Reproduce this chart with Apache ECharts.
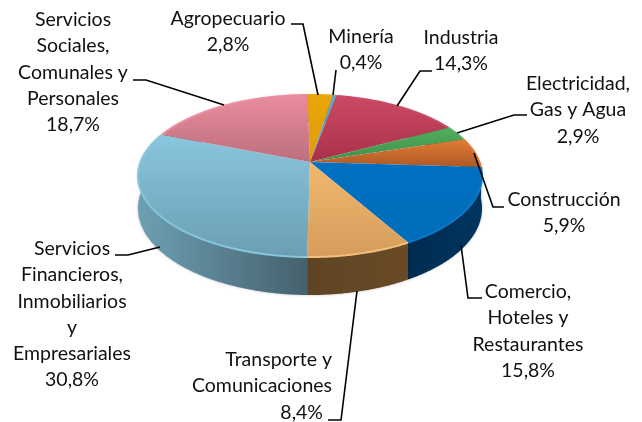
<!DOCTYPE html>
<html>
<head>
<meta charset="utf-8">
<style>
  html, body { margin: 0; background: #fff; }
  #chart { width: 642px; height: 422px; }
</style>
<script src="https://cdn.jsdelivr.net/npm/echarts@6/dist/echarts.min.js"></script>
</head>
<body>
<div id="chart"></div>
<script>
// datos, en sentido horario desde arriba
const sectores = [
  ['Agropecuario'],
  ['Minería'],
  ['Industria'],
  ['Electricidad,', 'Gas y Agua'],
  ['Construcción'],
  ['Comercio,', 'Hoteles y', 'Restaurantes'],
  ['Transporte y', 'Comunicaciones'],
  ['Servicios', 'Financieros,', 'Inmobiliarios', 'y', 'Empresariales'],
  ['Servicios', 'Sociales,', 'Comunales y', 'Personales']
]
const valores = [2.8, 0.4, 14.3, 2.9, 5.9, 15.8, 8.4, 30.8, 18.7]

// colores de cada porcion
const caraArriba = ['#eba60c', '#6aa6c8', '#cb4a63', '#52ad5e', '#e37c35', '#0070c2', '#f1b96f', '#8ac6dd', '#ea8d9e']
const caraAbajo = ['#e09a06', '#5a96b8', '#a93049', '#3f9049', '#ad5925', '#006db9', '#d59c5c', '#6b9eb4', '#bc6e7d']
const bordeLuz = ['#eba60c', '#6aa6c8', '#cb4a63', '#52ad5e', '#e37c35', '#0f78c4', '#f2bf7c', '#86c6dc', '#ea8d9e']
const ladoIzq = ['#b07a05', '#3e6c85', '#7d2236', '#2b6a35', '#8a4a1e', '#00355f', '#6a4a26', '#6da0b3', '#8a4f5a']
const ladoDer = ['#b07a05', '#3e6c85', '#7d2236', '#2b6a35', '#8a4a1e', '#002c50', '#5f4424', '#45606d', '#8a4f5a']

// donde va cada etiqueta y su linea guia
const etiquetas = [
  { x: 228, y: 19, align: 'center', guia: [[291, 24], [303, 24], [318, 95]] },
  { x: 361, y: 37, align: 'center', guia: [[336, 70], [333, 95]] },
  { x: 461, y: 38, align: 'center', guia: [[432, 71], [420, 71], [397, 106]] },
  { x: 578, y: 84, align: 'center', guia: [[527, 115], [514, 115], [457, 133]] },
  { x: 564, y: 200, align: 'center', guia: [[504, 207], [493, 207], [474, 153]] },
  { x: 528, y: 292, align: 'center', guia: [[482, 298], [468, 298], [461, 245]] },
  { x: 332, y: 360, align: 'right', valorX: 323, guia: [[328, 420], [341, 420], [357, 291]] },
  { x: 72, y: 249, align: 'center', guia: [[115, 255], [128, 255], [160, 247]] },
  { x: 73, y: 20, align: 'center', guia: [[133, 80], [146, 80], [224, 105]] }
]

// geometria del disco en perspectiva
const cx = 310
const cy = 162
const radioX = 169.4
const radioY = 78.6
const persp = 0.173
const grosor = 31.4
const inicio = -1
const altoLinea = 26.2
const fuente = '19.5px Lato'

const total = valores.reduce((a, b) => a + b, 0)

function punto (grados, caida) {
  const t = grados * Math.PI / 180
  const s = 1 / (1 + persp * Math.cos(t))
  return [
    cx + radioX * Math.sin(t) * s,
    cy - radioY * Math.cos(t) * s + (caida ? grosor * s : 0)
  ]
}

function arco (desde, hasta, caida) {
  const pts = []
  const n = Math.max(2, Math.ceil((hasta - desde) * 2))
  for (let i = 0; i <= n; i++) {
    pts.push(punto(desde + (hasta - desde) * i / n, caida))
  }
  return pts
}

function angulos (i) {
  let acum = 0
  for (let k = 0; k < i; k++) acum += valores[k]
  return [inicio + acum / total * 360, inicio + (acum + valores[i]) / total * 360]
}

// pared lateral
function dibujaLado (params) {
  const i = params.dataIndex
  const [a, b] = angulos(i)
  const pts = arco(a, b, false).concat(arco(a, b, true).reverse())
  // el degradado va de izquierda a derecha en pantalla
  const izq = a > 180 ? ladoIzq[i] : ladoDer[i]
  const der = a > 180 ? ladoDer[i] : ladoIzq[i]
  return {
    type: 'polygon',
    shape: { points: pts },
    style: {
      fill: { type: 'linear', x: 0, y: 0, x2: 1, y2: 0, colorStops: [{ offset: 0, color: izq }, { offset: 1, color: der }] },
      shadowBlur: 3,
      shadowColor: 'rgba(0,0,0,0.25)'
    }
  }
}

// cara superior
function dibujaCara (params) {
  const i = params.dataIndex
  const [a, b] = angulos(i)
  const borde = arco(a, b, false)
  return {
    type: 'group',
    children: [
      {
        type: 'polygon',
        shape: { points: [[cx, cy]].concat(borde) },
        style: {
          fill: { type: 'linear', x: 0, y: 0, x2: 0, y2: 1, colorStops: [{ offset: 0, color: caraArriba[i] }, { offset: 1, color: caraAbajo[i] }] }
        }
      },
      {
        type: 'polyline',
        shape: { points: borde },
        style: { fill: null, stroke: bordeLuz[i], lineWidth: 2 }
      }
    ]
  }
}

// textos y lineas guia
function dibujaEtiqueta (params, api) {
  const i = params.dataIndex
  const e = etiquetas[i]
  const hijos = [{
    type: 'polyline',
    shape: { points: e.guia },
    style: { fill: null, stroke: '#000', lineWidth: 1.6 }
  }]
  const lineas = sectores[i]
  lineas.forEach((txt, n) => {
    hijos.push({
      type: 'text',
      style: { text: txt, x: e.x, y: e.y + n * altoLinea, align: e.align, verticalAlign: 'middle', font: fuente, fill: '#111' }
    })
  })
  hijos.push({
    type: 'text',
    style: {
      text: api.value(0).toFixed(1).replace('.', ',') + '%',
      x: e.valorX || e.x,
      y: e.y + lineas.length * altoLinea,
      align: e.align,
      verticalAlign: 'middle',
      font: fuente,
      fill: '#111'
    }
  })
  return { type: 'group', children: hijos }
}

const chart = echarts.init(document.getElementById('chart'))
const datos = valores.map(v => [v])
chart.setOption({
  backgroundColor: '#fff',
  animation: false,
  series: [
    { type: 'custom', coordinateSystem: 'none', silent: true, z: 1, data: datos, renderItem: dibujaLado },
    { type: 'custom', coordinateSystem: 'none', silent: true, z: 2, data: datos, renderItem: dibujaCara },
    { type: 'custom', coordinateSystem: 'none', silent: true, z: 3, data: datos, renderItem: dibujaEtiqueta }
  ]
})
</script>
</body>
</html>
